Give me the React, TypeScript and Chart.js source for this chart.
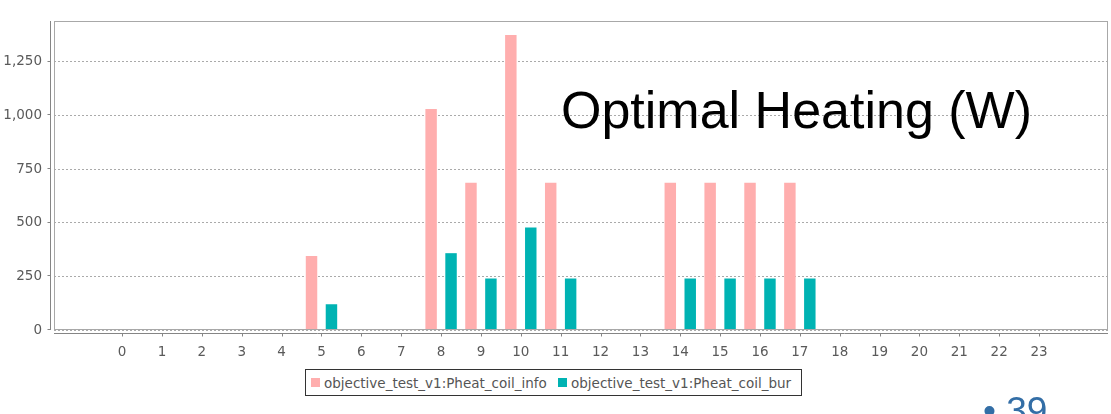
import React, { useEffect, useRef } from "react";
import { Chart, registerables } from "chart.js";

Chart.register(...registerables);

const hours = [0, 1, 2, 3, 4, 5, 6, 7, 8, 9, 10, 11, 12, 13, 14, 15, 16, 17, 18, 19, 20, 21, 22, 23];
const heatInfo = [0, 0, 0, 0, 0, 345, 0, 0, 1030, 686, 1375, 686, 0, 0, 686, 686, 686, 686, 0, 0, 0, 0, 0, 0];
const heatBur = [0, 0, 0, 0, 0, 120, 0, 0, 358, 240, 478, 240, 0, 0, 240, 240, 240, 240, 0, 0, 0, 0, 0, 0];
const seriesNames = ["objective_test_v1:Pheat_coil_info", "objective_test_v1:Pheat_coil_bur"];
const seriesColors = ["#ffaeae", "#00b3b3"];
const yTicks = [0, 250, 500, 750, 1000, 1250];
const titleText = "Optimal Heating (W)";
const pageNumber = "• 39";

const FONT = "'DejaVu Sans', sans-serif";

const framePlugin = {
  id: "frame",
  afterDraw(chart: any) {
    const { ctx, chartArea: a, scales } = chart;
    ctx.save();
    ctx.lineWidth = 1;
    ctx.setLineDash([]);
    // plot border
    ctx.strokeStyle = "#a8a8a8";
    ctx.strokeRect(a.left + 0.5, a.top + 0.5, a.right - a.left - 1, a.bottom - a.top - 1);
    // axis lines, offset from the plot
    ctx.strokeStyle = "#858585";
    const ax = a.left - 4 + 0.5;
    const ay = a.bottom + 4 - 0.5;
    ctx.beginPath();
    ctx.moveTo(ax, a.top);
    ctx.lineTo(ax, a.bottom);
    ctx.moveTo(a.left, ay);
    ctx.lineTo(a.right, ay);
    // y tick marks
    for (const t of scales.y.ticks) {
      const py = Math.round(scales.y.getPixelForValue(t.value)) - 0.5;
      ctx.moveTo(ax - 3, py);
      ctx.lineTo(ax, py);
    }
    // x tick marks
    for (const t of scales.x.ticks) {
      const px = Math.round(scales.x.getPixelForValue(t.value)) + 0.5;
      ctx.moveTo(px, ay);
      ctx.lineTo(px, ay + 3);
    }
    ctx.stroke();
    ctx.restore();
  },
};

export default function App() {
  const ref = useRef<HTMLCanvasElement | null>(null);

  useEffect(() => {
    if (!ref.current) return;
    const chart = new Chart(ref.current, {
      type: "bar",
      data: {
        datasets: [heatInfo, heatBur].map((vals, i) => ({
          label: seriesNames[i],
          data: hours.map((h, j) => ({ x: h, y: vals[j] })),
          backgroundColor: seriesColors[i],
          borderWidth: 0,
          categoryPercentage: 1.0,
          barPercentage: 0.575,
        })),
      },
      options: {
        animation: false,
        responsive: false,
        devicePixelRatio: 1,
        layout: { padding: { top: 21, right: 3, left: 0, bottom: 0 } },
        plugins: {
          legend: { display: false },
          tooltip: { enabled: false },
          title: { display: false },
        },
        scales: {
          x: {
            type: "linear",
            min: -1.71,
            max: 24.73,
            offset: false,
            grid: { display: false, drawTicks: false },
            border: { display: false },
            afterBuildTicks: (scale: any) => {
              scale.ticks = hours.map((h) => ({ value: h }));
            },
            afterFit: (scale: any) => {
              scale.height = 84;
            },
            ticks: {
              autoSkip: false,
              maxRotation: 0,
              padding: 14,
              color: "#5a5a5a",
              font: { family: FONT, size: 13.5 },
              callback: (v: any) => String(v),
            },
          },
          y: {
            min: 0,
            max: 1440,
            grid: {
              color: "#aaaaaa",
              lineWidth: 1,
              drawTicks: false,
            },
            border: { display: false, dash: [2, 2] },
            afterBuildTicks: (scale: any) => {
              scale.ticks = yTicks.map((v) => ({ value: v }));
            },
            afterFit: (scale: any) => {
              scale.width = 54;
            },
            ticks: {
              padding: 12,
              color: "#5a5a5a",
              font: { family: FONT, size: 13.5 },
              callback: (v: any) => Number(v).toLocaleString("en-US"),
            },
          },
        },
      },
      plugins: [framePlugin],
    });
    return () => chart.destroy();
  }, []);

  return (
    <div
      style={{
        position: "fixed",
        left: 0,
        top: 0,
        width: 1111,
        height: 414,
        overflow: "hidden",
        background: "#ffffff",
      }}
    >
      <canvas ref={ref} width={1111} height={414} style={{ position: "absolute", left: 0, top: 0 }} />
      <div
        style={{
          position: "absolute",
          left: 561,
          top: 84,
          fontFamily: "'Liberation Sans', Arial, sans-serif",
          fontSize: 52,
          lineHeight: 1,
          color: "#000000",
          whiteSpace: "nowrap",
        }}
      >
        {titleText}
      </div>
      <div
        style={{
          position: "absolute",
          left: 305,
          top: 369,
          width: 497,
          height: 27,
          boxSizing: "border-box",
          border: "1px solid #333333",
          background: "#ffffff",
          fontFamily: FONT,
          fontSize: 13.5,
          color: "#555555",
          whiteSpace: "nowrap",
          overflow: "hidden",
        }}
      >
        {seriesNames.map((name, i) => (
          <div
            key={name}
            style={{
              position: "absolute",
              left: i === 0 ? 5 : 252,
              top: 0,
              height: 25,
              display: "flex",
              alignItems: "center",
            }}
          >
            <span
              style={{
                display: "inline-block",
                width: 9,
                height: 9,
                background: seriesColors[i],
                marginRight: 4,
              }}
            />
            <span>{name}</span>
          </div>
        ))}
      </div>
      <div
        style={{
          position: "absolute",
          left: 983,
          top: 392,
          fontFamily: "'Liberation Sans', Arial, sans-serif",
          fontSize: 37,
          lineHeight: 1,
          color: "#336ea6",
          whiteSpace: "nowrap",
        }}
      >
        {pageNumber}
      </div>
    </div>
  );
}
